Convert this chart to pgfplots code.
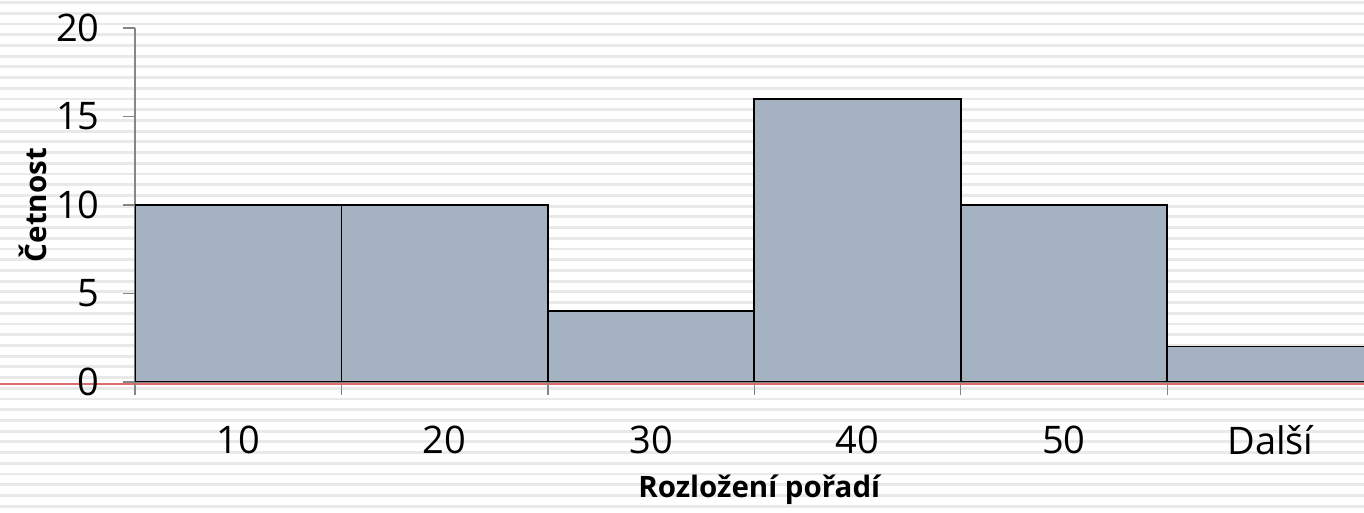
\documentclass[border=0pt]{standalone}
\usepackage{pgfplots}
\pgfplotsset{compat=1.18}
\usepackage{fontspec}
\setmainfont{Open Sans}
\definecolor{barfill}{RGB}{165,178,193}
\definecolor{stripe}{RGB}{233,233,233}
\definecolor{axgray}{RGB}{134,134,134}
\definecolor{redline}{RGB}{222,110,110}
\begin{document}
\begin{tikzpicture}[x=1pt,y=1pt]
\useasboundingbox (0,0) rectangle (1364,513);
\fill[white] (0,0) rectangle (1364,513);
\foreach \k in {0,...,47} {
  \fill[stripe] (0,{513-2.57-10.715*\k-1.4}) rectangle (1364,{513-2.57-10.715*\k+1.4});
}
\draw[redline, line width=2pt] (0,129.0) -- (1364,129.0);
\begin{axis}[
  at={(135pt,131pt)}, anchor=south west,
  scale only axis, width=1229pt, height=354pt,
  xmin=-0.5, xmax=5.4535, ymin=0, ymax=20,
  axis lines*=left,
  axis line style={axgray, line width=1.6pt},
  ytick={0,5,10,15,20},
  xtick={0,1,2,3,4,5},
  xticklabels={10,20,30,40,50,Další},
  minor xtick={-0.5,0.5,1.5,2.5,3.5,4.5},
  tick align=outside,
  major tick length=12pt, minor tick length=13pt,
  x tick style={draw=none},
  minor x tick style={draw=axgray, line width=1.3pt},
  y tick style={axgray, line width=1.3pt},
  tick label style={font=\fontsize{38}{44}\selectfont},
  /pgf/number format/assume math mode=true,
  xticklabel style={yshift=-28pt},
  yticklabel style={xshift=-20pt},
  ylabel={\textbf{Četnost}},
  xlabel={\textbf{Rozložení pořadí}},
  label style={font=\fontsize{29.5}{34}\selectfont},
  ylabel style={at={(rel axis cs:-0.083,0.5)}, anchor=center},
  xlabel style={at={(rel axis cs:0.5085,-0.305)}, anchor=center},
  ybar, bar width=1,
]
\addplot[fill=barfill, draw=black, line width=1.8pt] coordinates {(0,10) (1,10) (2,4) (3,16) (4,10) (5,2)};
\end{axis}
\end{tikzpicture}
\end{document}
